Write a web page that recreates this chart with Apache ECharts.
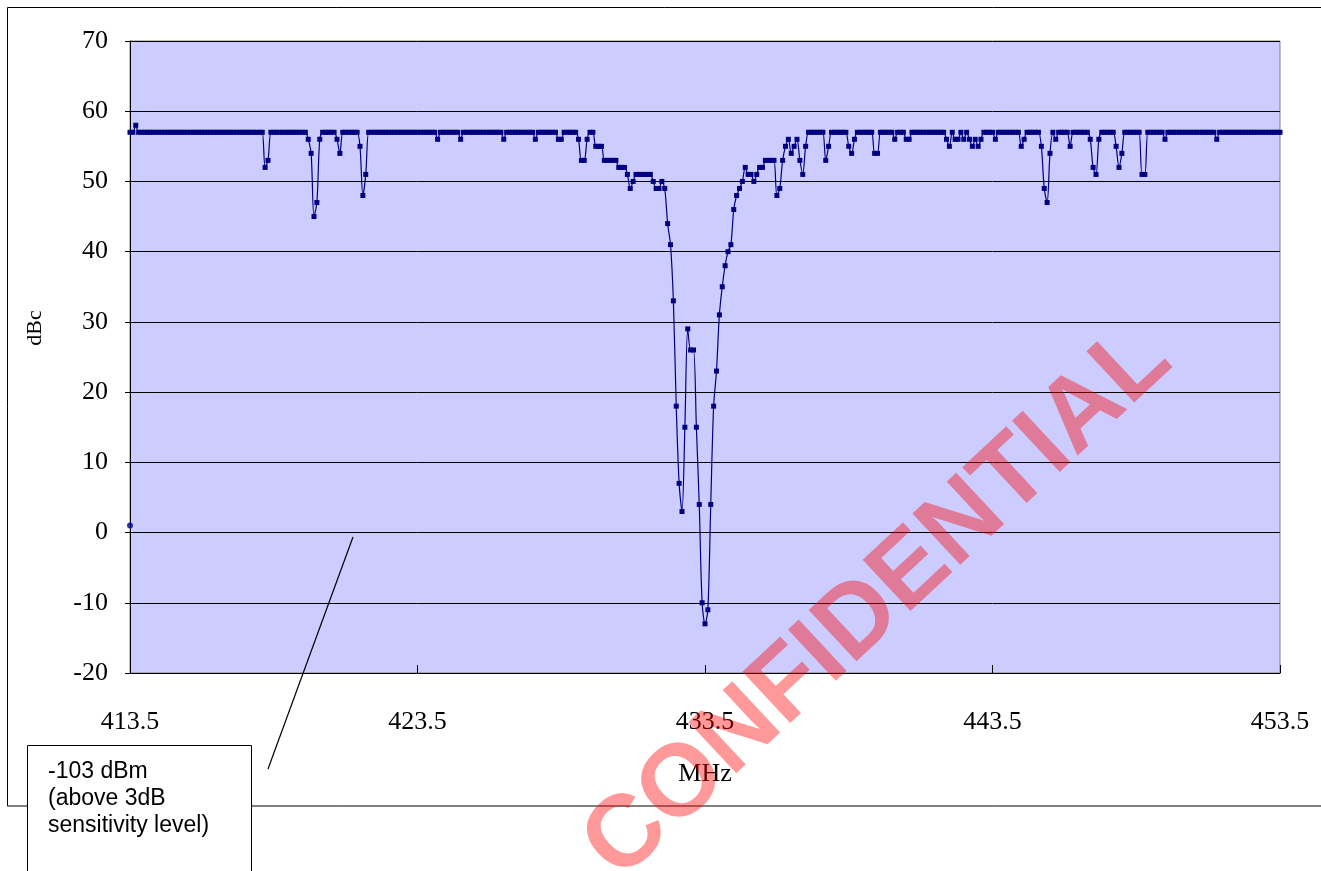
<!DOCTYPE html>
<html>
<head>
<meta charset="utf-8">
<script src="https://cdn.jsdelivr.net/npm/echarts@6/dist/echarts.min.js"></script>
<style>
html,body{margin:0;padding:0;background:#fff;}
#chart{width:1321px;height:871px;}
</style>
</head>
<body>
<div id="chart"></div>
<script>
// Frequency grid (MHz): sweep start and step
const freqStart = 413.5;
const freqStep = 0.1;
const xTicks = [413.5, 423.5, 433.5, 443.5, 453.5];
const yTicks = [-20, -10, 0, 10, 20, 30, 40, 50, 60, 70];

// Measured rejection (dBc), one value per frequency step
const dBcValues = [
  57,57,58,57,57,57,57,57,57,57,57,57,57,57,57,57,57,57,57,57,
  57,57,57,57,57,57,57,57,57,57,57,57,57,57,57,57,57,57,57,57,
  57,57,57,57,57,57,57,52,53,57,57,57,57,57,57,57,57,57,57,57,
  57,57,56,54,45,47,56,57,57,57,57,57,56,54,57,57,57,57,57,57,
  55,48,51,57,57,57,57,57,57,57,57,57,57,57,57,57,57,57,57,57,
  57,57,57,57,57,57,57,56,57,57,57,57,57,57,57,56,57,57,57,57,
  57,57,57,57,57,57,57,57,57,57,56,57,57,57,57,57,57,57,57,57,
  57,56,57,57,57,57,57,57,57,56,56,57,57,57,57,57,56,53,53,56,
  57,57,55,55,55,53,53,53,53,53,52,52,52,51,49,50,51,51,51,51,
  51,51,50,49,49,50,49,44,41,33,18,7,3,15,29,26,26,15,4,-10,
  -13,-11,4,18,23,31,35,38,40,41,46,48,49,50,52,51,51,50,51,52,
  52,53,53,53,53,48,49,53,55,56,54,55,56,53,51,55,57,57,57,57,
  57,57,53,55,57,57,57,57,57,57,55,54,56,57,57,57,57,57,57,54,
  54,57,57,57,57,57,56,57,57,57,56,56,57,57,57,57,57,57,57,57,
  57,57,57,57,56,55,57,56,56,57,56,57,56,55,56,55,56,57,57,57,
  57,56,57,57,57,57,57,57,57,57,55,56,57,57,57,57,57,55,49,47,
  54,57,56,57,57,57,57,55,57,57,57,57,57,57,56,52,51,56,57,57,
  57,57,57,55,52,54,57,57,57,57,57,57,51,51,57,57,57,57,57,57,
  56,57,57,57,57,57,57,57,57,57,57,57,57,57,57,57,57,57,56,57,
  57,57,57,57,57,57,57,57,57,57,57,57,57,57,57,57,57,57,57,57,
  57
];

// Separate single reading plotted at the start frequency
const startPoint = [[413.5, 1]];

const xAxisTitle = 'MHz';
const yAxisTitle = 'dBc';
const noteLines = ['-103 dBm', '(above 3dB', 'sensitivity level)'];
const watermark = 'CONFIDENTIAL';

const lineData = dBcValues.map((v, i) => [Math.round((freqStart + i * freqStep) * 10) / 10, v]);

const serif = '"Liberation Serif", "DejaVu Serif", serif';
const sans = '"Liberation Sans", Arial, sans-serif';

const chart = echarts.init(document.getElementById('chart'), null, {renderer: 'canvas'});
chart.setOption({
  animation: false,
  backgroundColor: '#ffffff',
  grid: {
    left: 130, top: 41, width: 1150, height: 632,
    show: true, backgroundColor: '#ccccff', borderColor: '#808080', borderWidth: 1
  },
  xAxis: {
    type: 'value',
    min: xTicks[0], max: xTicks[xTicks.length - 1], interval: 10,
    name: xAxisTitle, nameLocation: 'middle', nameGap: 88,
    nameTextStyle: {fontFamily: serif, fontSize: 26, color: '#000'},
    axisLine: {show: true, onZero: false, lineStyle: {color: '#000', width: 1}},
    axisTick: {show: true, inside: true, length: 8, lineStyle: {color: '#000'}},
    axisLabel: {fontFamily: serif, fontSize: 26, color: '#000', margin: 36,
      formatter: v => v.toFixed(1)},
    splitLine: {show: false}
  },
  yAxis: {
    type: 'value',
    min: yTicks[0], max: yTicks[yTicks.length - 1], interval: 10,
    axisLine: {show: true, onZero: false, lineStyle: {color: '#000', width: 1}},
    axisTick: {show: true, inside: false, length: 5, lineStyle: {color: '#000'}},
    axisLabel: {fontFamily: serif, fontSize: 26, color: '#000', margin: 22},
    splitLine: {show: true, lineStyle: {color: '#000', width: 1}}
  },
  series: [
    {
      type: 'line',
      data: lineData,
      smooth: 0.3,
      symbol: 'rect',
      symbolSize: 5,
      showAllSymbol: true,
      lineStyle: {color: '#000080', width: 1.2},
      itemStyle: {color: '#000080'},
      z: 3
    },
    {
      type: 'scatter',
      data: startPoint,
      symbol: 'circle',
      symbolSize: 6,
      itemStyle: {color: '#000099'},
      z: 4
    }
  ],
  graphic: [
    {type: 'rect', shape: {x: 7.5, y: 7.5, width: 1330, height: 798.5},
      style: {fill: 'none', stroke: '#000', lineWidth: 1}, z: 0, silent: true},
    {type: 'text', x: 35, y: 328, rotation: Math.PI / 2, z: 5,
      style: {text: yAxisTitle, font: '22px ' + serif, fill: '#000',
        align: 'center', verticalAlign: 'middle'}},
    {type: 'line', shape: {x1: 268, y1: 769, x2: 353, y2: 537},
      style: {stroke: '#000', lineWidth: 1.2}, z: 10},
    {type: 'rect', shape: {x: 27.5, y: 745.5, width: 224, height: 140},
      style: {fill: '#fff', stroke: '#000', lineWidth: 1}, z: 10},
    {type: 'text', x: 48, y: 758, z: 11,
      style: {text: noteLines.join('\n'), font: '23px ' + sans, fill: '#000', lineHeight: 27,
        verticalAlign: 'top', align: 'left'}},
    {type: 'text', x: 878, y: 603, rotation: 0.75, z: 20, silent: true,
      style: {text: watermark, font: 'bold 102px ' + sans, fill: 'rgba(255,0,0,0.4)',
        align: 'center', verticalAlign: 'middle'}}
  ]
});
</script>
</body>
</html>
